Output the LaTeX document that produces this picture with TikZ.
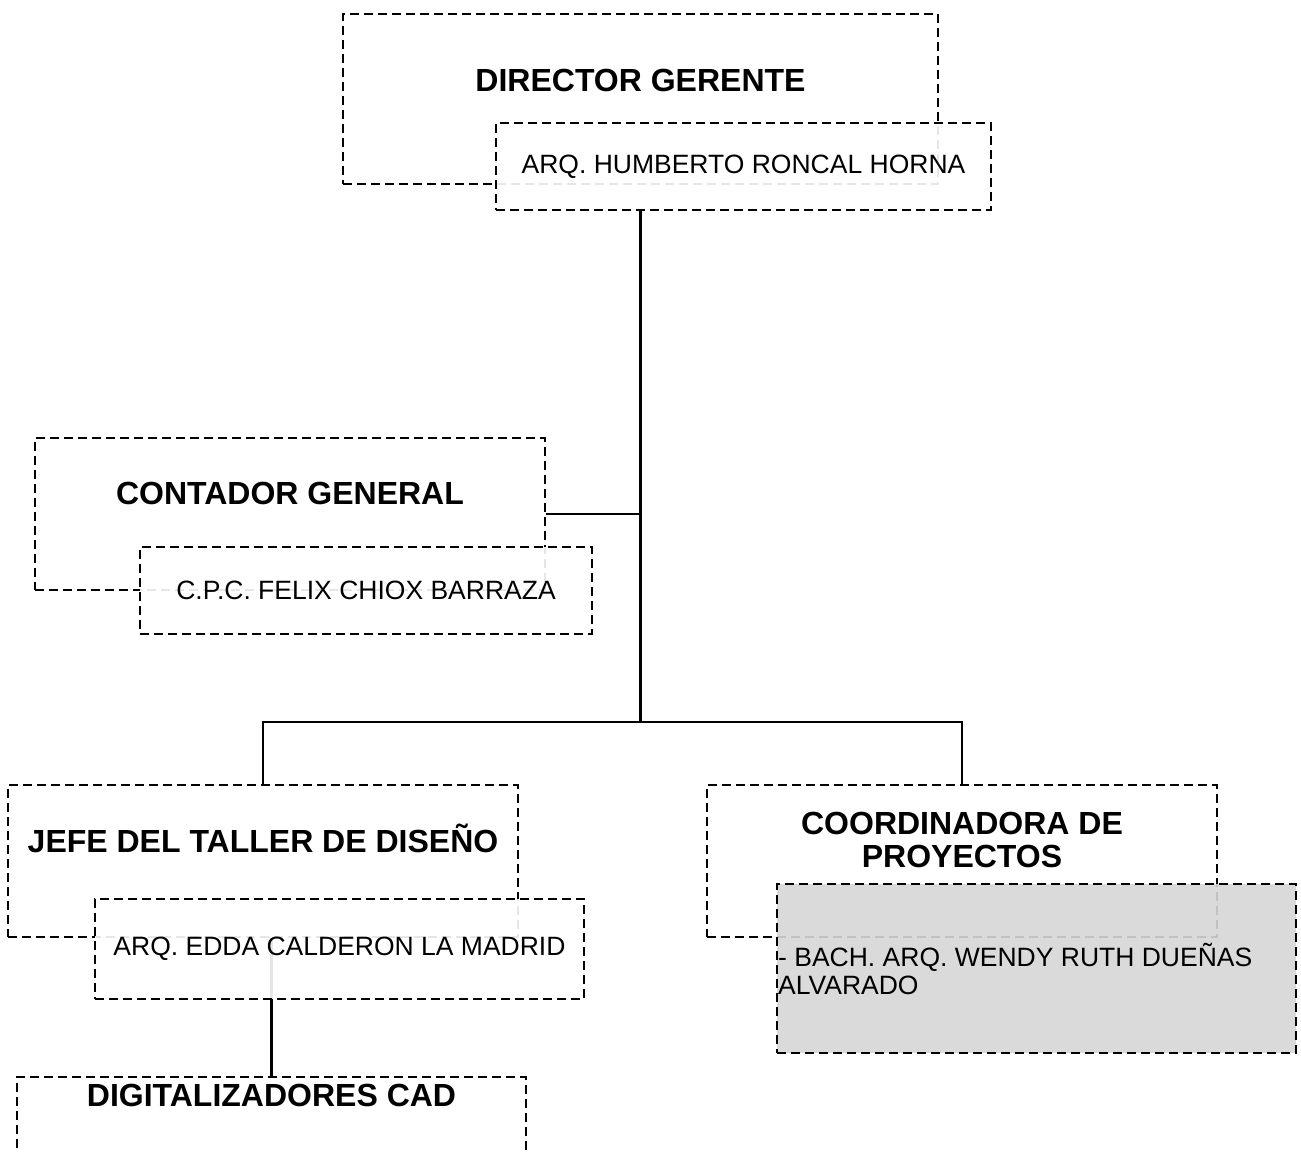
\documentclass[tikz,border=0pt]{standalone}
\usepackage{fontspec}
\setmainfont{Liberation Sans}

\begin{document}
\begin{tikzpicture}[x=1pt,y=-1pt,
    box/.style={draw,dash pattern=on 9pt off 5pt,line width=2.8pt,inner sep=0pt},
    subbox/.style={box,fill=white,fill opacity=0.9,text opacity=1},
    title/.style={font=\fontsize{32}{33}\selectfont\bfseries,align=center,inner sep=0pt},
    person/.style={font=\fontsize{26.5}{28}\selectfont,inner sep=0pt},
    link/.style={line width=2.4pt}]
    \useasboundingbox (0,0) rectangle (1301,1153);
    \clip (0,0) rectangle (1301,1153);
    % main boxes
    \node[box, minimum width=595pt, minimum height=170pt] (dir)   at (640.5,99)  {};
    \node[box, minimum width=510pt, minimum height=152pt] (cont)  at (290,514)   {};
    \node[box, minimum width=510pt, minimum height=152pt] (jefe)  at (263,861)   {};
    \node[box, minimum width=510pt, minimum height=152pt] (coord) at (962,861)   {};
    \node[box, minimum width=509pt, minimum height=152pt] (digi)  at (271.5,1153) {};
    \node[title] (dirtitle)   at (640.5,80)  {DIRECTOR GERENTE};
    \node[title] (conttitle)  at (290,493)   {CONTADOR GENERAL};
    \node[title] (jefetitle)  at (263,838)   {JEFE DEL TALLER DE DISEÑO};
    \node[title] (coordtitle) at (962,840)   {COORDINADORA DE\\PROYECTOS};
    \node[title] (digititle)  at (271.5,1095) {DIGITALIZADORES CAD};
    % connectors
    \coordinate (hub) at (dir.south |- 0,722);
    \draw[link] (digi.north) -- (digi.north |- jefe.south);
    % name boxes
    \node[subbox, minimum width=495pt, minimum height=87pt] (dirsub)  at (743.5,166.5) {};
    \node[subbox, minimum width=452pt, minimum height=87pt] (contsub) at (366,590.5)   {};
    \node[subbox, minimum width=489pt, minimum height=100pt] (jefesub) at (339.5,949)  {};
    \node[subbox, fill={rgb,255:red,214;green,214;blue,214}, minimum width=519pt, minimum height=169pt] (coordsub) at (1036.5,968.5) {};
    \node[person] (dirname)  at (dirsub)  {ARQ. HUMBERTO RONCAL HORNA};
    \node[person] (contname) at (contsub) {C.P.C. FELIX CHIOX BARRAZA};
    \node[person] (jefename) at (jefesub) {ARQ. EDDA CALDERON LA MADRID};
    \node[person, anchor=west, align=left] (coordname) at (778,969) {- BACH. ARQ. WENDY RUTH DUEÑAS\\ALVARADO};
    \draw[link] (dir.south |- dirsub.south) -- (hub);
    \draw[link] (cont.east) -- (cont.east -| hub);
    \draw[link] (jefe.north) -- (jefe.north |- hub) -- (coord.north |- hub) -- (coord.north);
\end{tikzpicture}
\end{document}
